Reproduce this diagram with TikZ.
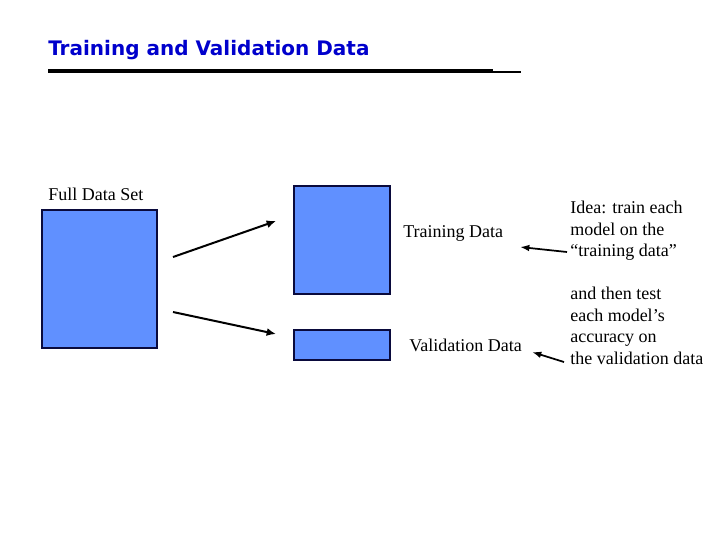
\documentclass[tikz,border=0pt]{standalone}
\usepackage{fontspec}
\setmainfont{Liberation Serif}
\newfontfamily\titlefont{DejaVu Sans}
\usetikzlibrary{arrows.meta}
\definecolor{boxblue}{RGB}{96,144,255}
\definecolor{boxedge}{RGB}{10,10,60}
\definecolor{titleblue}{RGB}{0,0,204}

\tikzset{
  datbox/.style={draw=boxedge,fill=boxblue,line width=0.8pt,inner sep=0pt},
  lbl/.style={inner sep=0pt,font=\fontsize{13.5}{16.1}\selectfont},
  bigarr/.style={line width=1.5pt,-{Latex[length=7pt,width=6pt]}},
  smallarr/.style={line width=1.3pt,-{Latex[length=7pt,width=5pt]}}
}

\begin{document}
\begin{tikzpicture}[x=0.75pt,y=-0.75pt]
      \useasboundingbox (0,0) rectangle (720,540);

      % title and rule
      \node[inner sep=0pt,anchor=base west,text=titleblue,font=\titlefont\bfseries\fontsize{15}{18}\selectfont] (title) at (48,55){Training and Validation Data};
      \coordinate (r1) at (48,71);
      \coordinate (r2) at (493,71);
      \coordinate (r3) at (493,72);
      \coordinate (r4) at (521,72);
      \draw[line width=3pt] (r1) -- (r2);
      \draw[line width=1.5pt] (r3) -- (r4);

      % data boxes
      \node[datbox,minimum width=115*0.75pt,minimum height=138*0.75pt] (full) at (99.5,279){};
      \node[datbox,minimum width=96*0.75pt,minimum height=108*0.75pt] (train) at (342,240){};
      \node[datbox,minimum width=96*0.75pt,minimum height=30*0.75pt] (valid) at (342,345){};

      \node[lbl,anchor=base west] (fulllbl) at (48,200){Full Data Set};
      \node[lbl,anchor=base west] (trainlbl) at (403,237){Training Data};
      \node[lbl,anchor=base west] (validlbl) at (409,351){Validation Data};

      \node[lbl,anchor=north west,align=left] (idea) at (570,201){Idea: train each\\model on the\\``training data''};
      \node[lbl,anchor=north west,align=left] (test) at (570,287){and then test\\each model's\\accuracy on\\the validation data};

      % arrows
      \coordinate (a1) at (173,257);
      \coordinate (a2) at (276,221);
      \coordinate (b1) at (173,312);
      \coordinate (b2) at (276,334);
      \coordinate (c1) at (567,252);
      \coordinate (c2) at (520,247);
      \coordinate (d1) at (564,362);
      \coordinate (d2) at (532,352);
      \draw[bigarr] (a1) -- (a2);
      \draw[bigarr] (b1) -- (b2);
      \draw[smallarr] (c1) -- (c2);
      \draw[smallarr] (d1) -- (d2);
\end{tikzpicture}
\end{document}
